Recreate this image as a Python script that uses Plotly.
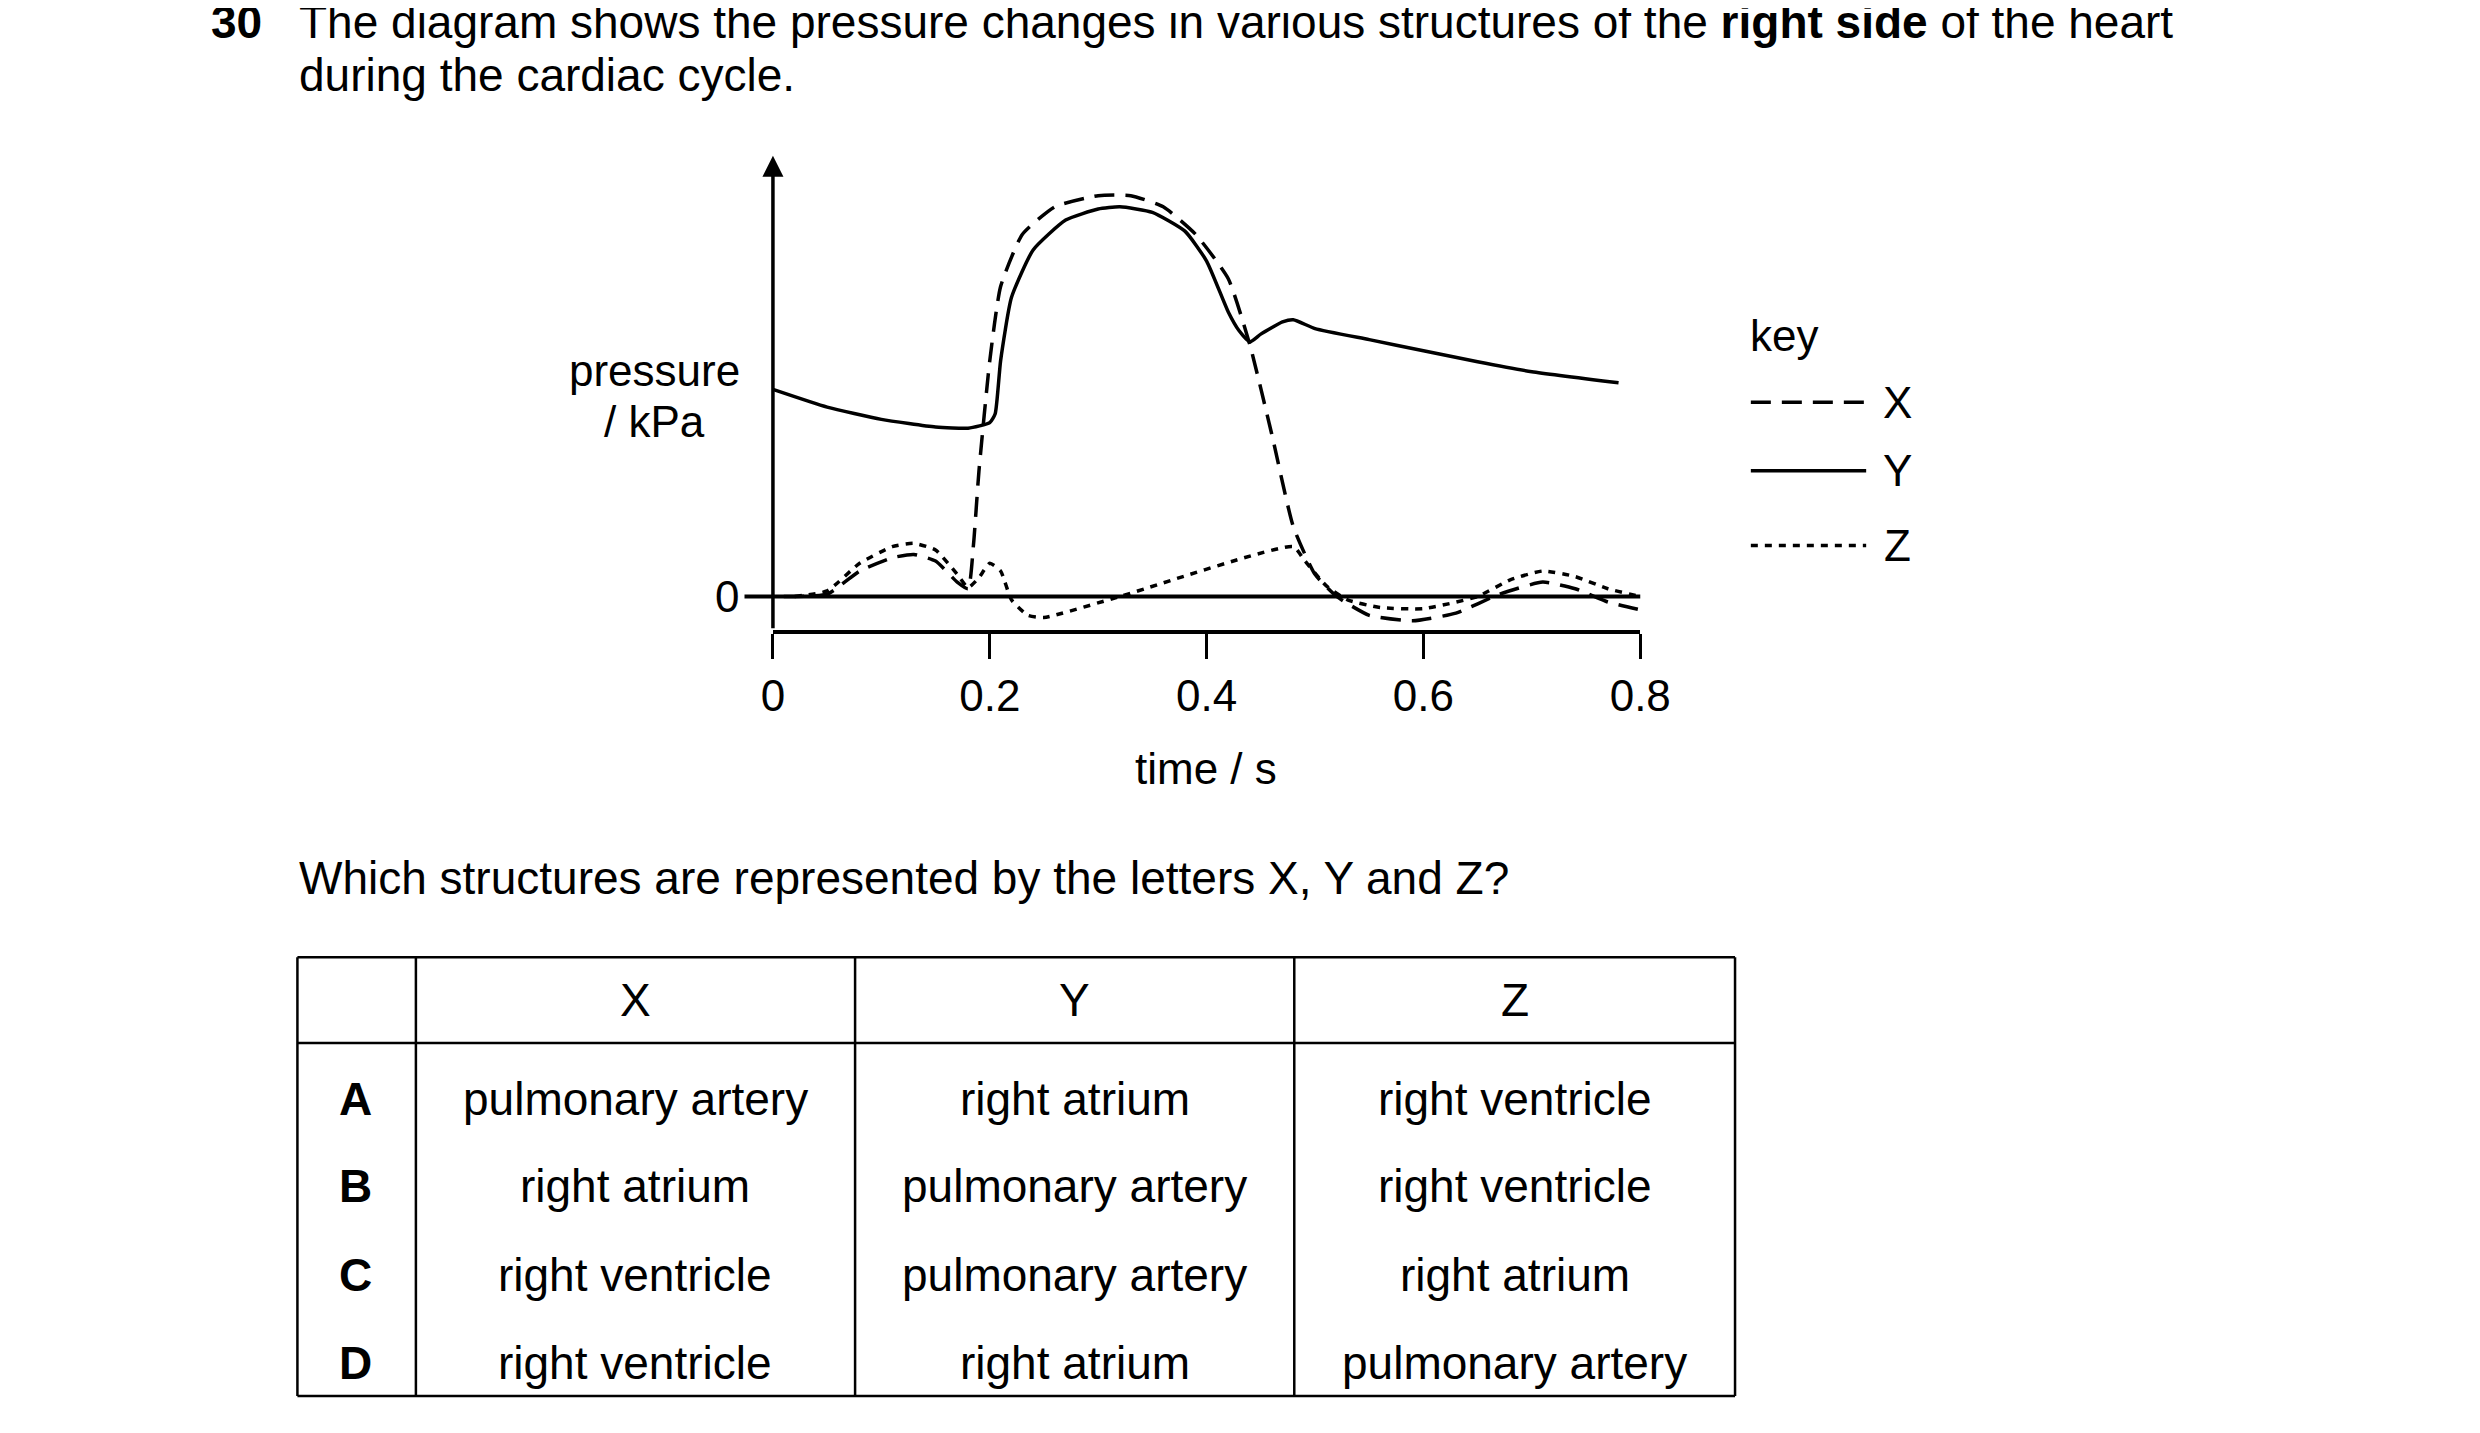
import plotly.graph_objects as go

W, H = 2480, 1433
S = 1.59

# data (time / s, pressure arbitrary kPa units)
x_t = [0.01,0.05,0.08,0.11,0.13,0.15,0.17,0.18,0.185,0.19,0.2,0.21,0.23,0.26,0.3,0.33,0.36,0.39,0.42,0.44,0.46,0.48,0.5,0.52,0.55,0.59,0.63,0.67,0.71,0.74,0.77,0.8]
x_p = [0,0.02,0.23,0.35,0.38,0.32,0.13,0.07,0.47,1.13,2.13,2.8,3.27,3.52,3.62,3.62,3.52,3.27,2.87,2.27,1.47,0.63,0.2,0,-0.17,-0.22,-0.15,0.02,0.13,0.07,-0.05,-0.12]
y_t = [0,0.05,0.1,0.15,0.18,0.2,0.205,0.21,0.22,0.24,0.27,0.3,0.32,0.35,0.38,0.4,0.42,0.43,0.44,0.45,0.47,0.48,0.5,0.55,0.6,0.65,0.7,0.78]
y_p = [1.87,1.71,1.6,1.53,1.52,1.57,1.65,2.13,2.7,3.13,3.4,3.5,3.52,3.47,3.3,3.03,2.57,2.4,2.3,2.37,2.48,2.5,2.42,2.32,2.22,2.12,2.03,1.93]
z_t = [0.02,0.05,0.08,0.11,0.13,0.15,0.17,0.18,0.19,0.2,0.21,0.22,0.235,0.25,0.32,0.48,0.49,0.51,0.53,0.56,0.6,0.65,0.68,0.71,0.74,0.77,0.8]
z_p = [0,0.05,0.3,0.45,0.48,0.42,0.2,0.08,0.17,0.3,0.23,-0.03,-0.17,-0.19,0,0.45,0.33,0.1,-0.03,-0.1,-0.11,0,0.15,0.23,0.18,0.07,0]
x_ticks = [0, 0.2, 0.4, 0.6, 0.8]
x_ticklabels = ["0", "0.2", "0.4", "0.6", "0.8"]

headers = ["X", "Y", "Z"]
row_letters = ["A", "B", "C", "D"]
rows = [["pulmonary artery", "right atrium", "right ventricle"],
        ["right atrium", "pulmonary artery", "right ventricle"],
        ["right ventricle", "pulmonary artery", "right atrium"],
        ["right ventricle", "right atrium", "pulmonary artery"]]

def px(v): return ((v - 11.4) / 0.989) * S / W
def py(v): return 1 - (v - 7) * S / H

F = "Liberation Sans, Arial, sans-serif"
fig = go.Figure()
lw = 3.5
XD, ZD = "20px,11px", "7px,7px"
fig.add_trace(go.Scatter(x=x_t, y=x_p, mode="lines", line=dict(color="black", width=lw, dash=XD, shape="spline", smoothing=0.5)))
fig.add_trace(go.Scatter(x=y_t, y=y_p, mode="lines", line=dict(color="black", width=lw, shape="spline", smoothing=0.5)))
fig.add_trace(go.Scatter(x=z_t, y=z_p, mode="lines", line=dict(color="black", width=lw, dash=ZD, shape="spline", smoothing=0.5)))

fig.update_layout(width=W, height=H, margin=dict(l=0, r=0, t=0, b=0), showlegend=False,
                  paper_bgcolor="white", plot_bgcolor="white", font=dict(family=F, color="black"))
fig.update_xaxes(domain=[px(488), px(1037)], range=[0, 0.8], tickvals=x_ticks, ticktext=x_ticklabels,
                 showgrid=False, zeroline=False, showline=True, linewidth=4, linecolor="black",
                 ticks="outside", ticklen=25, tickwidth=3, tickcolor="black", tickfont=dict(size=44, family=F))
fig.update_yaxes(domain=[py(398), py(100)], range=[-0.3, 3.98], showgrid=False, zeroline=False,
                 showticklabels=False, showline=False)

fig.add_annotation(x=0, y=3.98, ax=0, ay=-0.3, xref="x", yref="y", axref="x", ayref="y",
                   showarrow=True, arrowhead=2, arrowsize=1.2, arrowwidth=3.5, arrowcolor="black", text="")
fig.add_shape(type="line", xref="paper", yref="y", x0=px(470), x1=px(1037), y0=0, y1=0, line=dict(color="black", width=4))
fig.add_annotation(x=px(468), y=0, xref="paper", yref="y", text="0", showarrow=False, xanchor="right", font=dict(size=44))

def txt(xd, yd, t, size=46, anchor="center"):
    fig.add_annotation(x=px(xd), y=py(yd), xref="paper", yref="paper", text=t, showarrow=False,
                       xanchor=anchor, yanchor="middle", font=dict(size=size, family=F))

txt(413, 235, "pressure", 44)
txt(413, 267, "/ kPa", 44)
txt(762, 485, "time / s", 44)
txt(131, 16, "<b>30</b>", 46, "left")
txt(187, 16, "The diagram shows the pressure changes in various structures of the <b>right side</b> of the heart", 46, "left")
txt(187, 49, "during the cardiac cycle.", 46, "left")
txt(187, 554, "Which structures are represented by the letters X, Y and Z?", 46, "left")

# key
txt(1105, 213, "key", 44, "left")
for yy, lab, d in zip([255, 298, 345], ["X", "Y", "Z"], [XD, "solid", ZD]):
    fig.add_shape(type="line", xref="paper", yref="paper", x0=px(1107), x1=px(1180), y0=py(yy), y1=py(yy),
                  line=dict(color="black", width=lw, dash=d))
    txt(1200, yy, lab, 44)

# table
L, R, T, B = 187, 1097, 604, 880
cols = [187, 262, 540, 818, 1097]
for c in cols:
    fig.add_shape(type="line", xref="paper", yref="paper", x0=px(c), x1=px(c), y0=py(T), y1=py(B), line=dict(color="black", width=2.5))
for r in [T, 658, B]:
    fig.add_shape(type="line", xref="paper", yref="paper", x0=px(L), x1=px(R), y0=py(r), y1=py(r), line=dict(color="black", width=2.5))
for j, h in enumerate(headers):
    txt((cols[j+1] + cols[j+2]) / 2, 631, h)
for yy, lt, row in zip([693, 748, 804, 859], row_letters, rows):
    txt(224, yy, "<b>" + lt + "</b>")
    for j, cell in enumerate(row):
        txt((cols[j+1] + cols[j+2]) / 2, yy, cell)

fig.write_html("out.html")
